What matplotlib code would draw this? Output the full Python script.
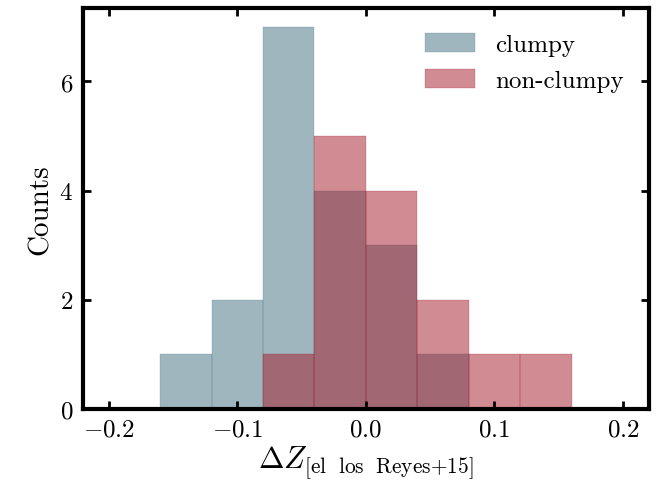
import numpy as np
import matplotlib
matplotlib.use('Agg')
from matplotlib import pyplot as plt

plt.rcParams['font.family'] = 'serif'
plt.rcParams['font.serif'] = ['cmr10', 'DejaVu Serif']
plt.rcParams['mathtext.fontset'] = 'cm'
plt.rcParams['axes.formatter.use_mathtext'] = True
plt.rcParams['axes.unicode_minus'] = True

# histogram bins (width 0.04) and counts
bin_edges = [-0.16, -0.12, -0.08, -0.04, 0.0, 0.04, 0.08, 0.12, 0.16]
clumpy_counts = [1, 2, 7, 4, 3, 1, 0, 0]
nonclumpy_counts = [0, 0, 1, 5, 4, 2, 1, 1]

clumpy_color = '#416f81'
nonclumpy_color = '#a31929'

edges = np.array(bin_edges)
centers = 0.5 * (edges[:-1] + edges[1:])

fig, ax = plt.subplots(figsize=(6.58, 4.89), dpi=100)
fig.subplots_adjust(left=0.126, right=0.986, top=0.982, bottom=0.162)

ax.hist(centers, bins=edges, weights=clumpy_counts, color=clumpy_color,
        alpha=0.5, edgecolor=clumpy_color, linewidth=0.3, label='clumpy')
ax.hist(centers, bins=edges, weights=nonclumpy_counts, color=nonclumpy_color,
        alpha=0.5, edgecolor=nonclumpy_color, linewidth=0.3, label='non-clumpy')

ax.set_xlim(-0.22, 0.22)
ax.set_xticks([-0.2, -0.1, 0.0, 0.1, 0.2])
ax.set_xticklabels([r'$-0.2$', r'$-0.1$', r'$0.0$', r'$0.1$', r'$0.2$'])
ax.set_yticks([0, 2, 4, 6])
ax.set_yticklabels([r'$0$', r'$2$', r'$4$', r'$6$'])

ax.tick_params(direction='in', top=True, right=True, length=6, width=2,
               labelsize=18, pad=7)
for sp in ax.spines.values():
    sp.set_linewidth(3)

ax.set_xlabel(r'$\Delta Z_{\mathrm{[el\ \ los\ \ Reyes{+}15]}}$', fontsize=22, labelpad=2)
ax.set_ylabel('Counts', fontsize=21, labelpad=4)

ax.legend(loc='upper right', frameon=False, fontsize=18, handlelength=2.0,
          handleheight=0.8, borderaxespad=0.6, labelspacing=0.5,
          handletextpad=0.8)

fig.savefig('out.png', dpi=100)
